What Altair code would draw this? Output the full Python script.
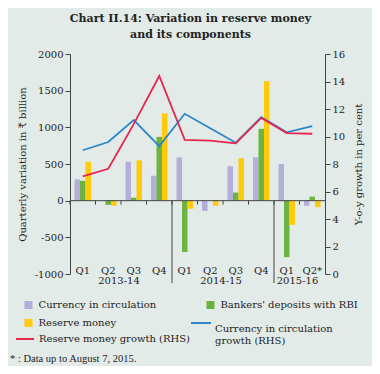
import altair as alt
import pandas as pd

years = ["2013-14", "2013-14", "2013-14", "2013-14",
         "2014-15", "2014-15", "2014-15", "2014-15",
         "2015-16", "2015-16"]
quarters = ["Q1", "Q2", "Q3", "Q4", "Q1", "Q2", "Q3", "Q4", "Q1", "Q2*"]
currency = [290, 0, 530, 340, 590, -140, 470, 590, 500, -70]
bankers = [270, -57, 40, 870, -700, 0, 110, 980, -770, 55]
reserve = [530, -70, 550, 1190, -110, -70, 580, 1630, -330, -90]
rm_growth = [7.1, 7.65, 10.9, 14.4, 9.75, 9.7, 9.5, 11.35, 10.25, 10.2]
cic_growth = [9.0, 9.6, 11.2, 9.3, 11.65, 10.6, 9.55, 11.4, 10.3, 10.75]

year_labels = ["2013-14", "2014-15", "2015-16"]
year_label_at = ["2013-14 Q3", "2014-15 Q3", "2015-16 Q2*"]
separators_at = ["2014-15 Q1", "2015-16 Q1"]

bar_series = ["Currency in circulation", "Bankers' deposits with RBI", "Reserve money"]
bar_colors = ["#b4aedb", "#6cb33f", "#ffca0a"]
# legend fills its two columns top to bottom
legend_order = ["Currency in circulation", "Reserve money", "Bankers' deposits with RBI"]
legend_colors = ["#b4aedb", "#ffca0a", "#6cb33f"]
rm_name = "Reserve money growth (RHS)"
cic_name = "Currency in circulation growth (RHS)"
footnote = "* : Data up to August 7, 2015."
title_lines = ["Chart II.14: Variation in reserve money", "and its components"]

FONT = "DejaVu Serif"
TXT = "#222222"
AX = "#444444"
W, H = 255, 220

keys = [f"{y} {q}" for y, q in zip(years, quarters)]

bars_df = pd.DataFrame({
    "key": keys * 3,
    "series": [bar_series[0]] * 10 + [bar_series[1]] * 10 + [bar_series[2]] * 10,
    "value": currency + bankers + reserve,
})
rm_df = pd.DataFrame({"key": keys, "g": rm_growth, "s": [rm_name] * 10})
cic_df = pd.DataFrame({"key": keys, "g": cic_growth, "s": [cic_name] * 10})
zero_df = pd.DataFrame({"value": [0]})
ticks_df = pd.DataFrame({"key": keys, "value": [0] * len(keys)})
sep_df = pd.DataFrame({"key": separators_at, "value": [0] * len(separators_at)})
yr_df = pd.DataFrame({"key": year_label_at, "label": year_labels})
foot_df = pd.DataFrame({"t": [footnote]})

x_scale = alt.Scale(domain=keys, paddingInner=0, paddingOuter=0)
x_axis = alt.Axis(title=None, domain=False, ticks=False, labelAngle=0,
                  labelExpr="split(datum.value, ' ')[1]", labelPadding=-9,
                  labelFont=FONT, labelFontSize=10, labelColor=TXT)


def X(**kw):
    return alt.X("key:N", sort=keys, scale=x_scale, axis=x_axis, **kw)


yl_scale = alt.Scale(domain=[-1000, 2000], nice=False, zero=False)
yl_axis = alt.Axis(orient="left", values=list(range(-1000, 2001, 500)), grid=False,
                   labelExpr="'' + datum.value",
                   title="Quarterly variation in ₹ billion", titleX=-48, titleY=H / 2,
                   titleAngle=270, titleBaseline="middle", titleFont=FONT,
                   titleFontSize=10, titleFontWeight="normal", titleColor=TXT,
                   labelFont=FONT, labelFontSize=10, labelColor=TXT, labelPadding=2,
                   domainColor=AX, tickColor=AX, tickSize=5)


def YL():
    return alt.Y("value:Q", scale=yl_scale, axis=yl_axis)


yr_scale = alt.Scale(domain=[0, 16], nice=False, zero=False)
yr_axis = alt.Axis(orient="right", values=list(range(0, 17, 2)), grid=False,
                   title="Y-o-y growth in per cent", titleX=33, titleY=H / 2,
                   titleAngle=270, titleBaseline="middle", titleFont=FONT,
                   titleFontSize=10, titleFontWeight="normal", titleColor=TXT,
                   labelFont=FONT, labelFontSize=10, labelColor=TXT, labelPadding=2,
                   domainColor=AX, tickColor=AX, tickSize=5)


def YR():
    return alt.Y("g:Q", scale=yr_scale, axis=yr_axis)


bars = alt.Chart(bars_df).mark_bar().encode(
    x=X(),
    xOffset=alt.XOffset("series:N", sort=bar_series,
                        scale=alt.Scale(domain=bar_series, paddingInner=0, paddingOuter=0.82)),
    y=YL(),
    color=alt.Color("series:N",
                    scale=alt.Scale(domain=legend_order, range=legend_colors),
                    legend=alt.Legend(title=None, orient="none", legendX=-46.5, legendY=246,
                                      columns=2, columnPadding=49, rowPadding=8, padding=0,
                                      symbolType="square", symbolSize=64, symbolStrokeWidth=0,
                                      labelFont=FONT, labelFontSize=10, labelColor=TXT,
                                      labelOffset=5, labelLimit=300)),
)

zero_rule = alt.Chart(zero_df).mark_rule(color=AX, strokeWidth=1).encode(
    y=YL(), x=alt.value(0), x2=alt.value(W))

zero_ticks = alt.Chart(ticks_df).mark_rule(color=AX, strokeWidth=1, y2Offset=4).encode(
    x=X(bandPosition=0), y=YL(), y2=alt.Y2("value"))

seps = alt.Chart(sep_df).mark_rule(color=AX, strokeWidth=1).encode(
    x=X(bandPosition=0), y=YL(), y2=alt.value(229))

yr_text = alt.Chart(yr_df).mark_text(font=FONT, fontSize=10, color=TXT, baseline="middle",
                                     align="center", dx=-2).encode(
    x=X(bandPosition=0), y=alt.value(227), text="label:N")

foot = alt.Chart(foot_df).mark_text(font="Liberation Serif", fontSize=10.5, color=TXT,
                                    align="left", baseline="middle").encode(
    x=alt.value(-60), y=alt.value(305), text="t:N")

left = alt.layer(bars, zero_rule, zero_ticks, seps, yr_text, foot)

cic_line = alt.Chart(cic_df).mark_line(strokeWidth=1.8).encode(
    x=X(), y=YR(),
    color=alt.Color("s:N", scale=alt.Scale(domain=[cic_name], range=["#2a86c8"]),
                    legend=alt.Legend(title=None, orient="none", legendX=120, legendY=264,
                                      padding=0, symbolType="M-1,-0.6L1,-0.6", symbolSize=400,
                                      symbolStrokeWidth=2, labelFont=FONT, labelFontSize=10,
                                      labelColor=TXT, labelOffset=3, labelLimit=300,
                                      labelExpr="['Currency in circulation', 'growth (RHS)']")),
)
rm_line = alt.Chart(rm_df).mark_line(strokeWidth=1.8).encode(
    x=X(), y=YR(),
    color=alt.Color("s:N", scale=alt.Scale(domain=[rm_name], range=["#e8264d"]),
                    legend=alt.Legend(title=None, orient="none", legendX=-55, legendY=275,
                                      padding=0, symbolType="stroke", symbolSize=324,
                                      symbolStrokeWidth=2, labelFont=FONT, labelFontSize=10,
                                      labelColor=TXT, labelOffset=4, labelLimit=300)),
)

right = alt.layer(cic_line, rm_line).resolve_scale(color="independent")

chart = alt.layer(left, right).resolve_scale(
    y="independent", color="independent"
).properties(
    width=W, height=H,
    title=alt.Title(title_lines, font=FONT, fontSize=11, fontWeight="bold", color=TXT,
                    anchor="middle", frame="group", dx=-7, offset=9, lineHeight=16),
    autosize=alt.AutoSizeParams(type="none"),
    padding={"left": 62, "top": 46, "right": 47, "bottom": 92},
).configure(background="#e3ebe8").configure_view(stroke=None)

chart.save("out.html", embed_options={"renderer": "svg", "actions": False})
